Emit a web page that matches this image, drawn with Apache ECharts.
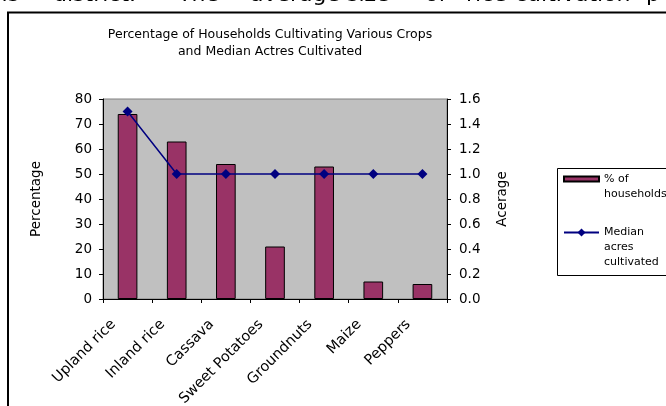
<!DOCTYPE html>
<html>
<head>
<meta charset="utf-8">
<script src="https://cdn.jsdelivr.net/npm/echarts@6/dist/echarts.min.js"></script>
<style>
  html, body { margin: 0; padding: 0; background: #fff; }
  #chart { width: 666px; height: 406px; }
</style>
</head>
<body>
<div id="chart"></div>
<script>
// Crops surveyed and the share of households growing each
const categories = ['Upland rice', 'Inland rice', 'Cassava', 'Sweet Potatoes', 'Groundnuts', 'Maize', 'Peppers'];
const householdPct = [74, 63, 54, 21, 53, 7, 6];
const medianAcres = [1.5, 1.0, 1.0, 1.0, 1.0, 1.0, 1.0];

// Axis tick values
const pctTicks = [0, 10, 20, 30, 40, 50, 60, 70, 80];
const acreTicks = [0, 0.2, 0.4, 0.6, 0.8, 1.0, 1.2, 1.4, 1.6];

const FONT = 'DejaVu Sans';

// Running text of the page above the chart frame (only its lower half shows)
const bodyWords = [
  ['this', -21], ['district.', 53], ['The', 178], ['average', 250], ['size', 347],
  ['of', 425], ['rice', 466], ['cultivation', 515], ['p', 646]
];

const chart = echarts.init(document.getElementById('chart'), null, { renderer: 'canvas' });

const textGraphics = bodyWords.map(([w, x]) => ({
  type: 'text',
  x: x,
  y: -4.5,
  silent: true,
  style: {
    text: w,
    font: '22px "' + FONT + '"',
    fill: '#000',
    verticalAlign: 'middle',
    align: 'left'
  }
}));

const legendText = { fontFamily: FONT, fontSize: 11, color: '#000', lineHeight: 15 };

chart.setOption({
  animation: false,
  backgroundColor: '#fff',
  textStyle: { fontFamily: FONT, color: '#000' },
  graphic: [
    // chart frame
    {
      type: 'rect',
      shape: { x: 8, y: 12.5, width: 720, height: 460 },
      style: { fill: 'none', stroke: '#000', lineWidth: 2 },
      silent: true,
      z: 0
    },
    // legend box
    {
      type: 'rect',
      shape: { x: 557.5, y: 168.5, width: 140, height: 107 },
      style: { fill: '#fff', stroke: '#000', lineWidth: 1 },
      silent: true,
      z: 1
    }
  ].concat(textGraphics),
  title: {
    text: 'Percentage of Households Cultivating Various Crops\nand Median Actres Cultivated',
    left: 265,
    top: 21,
    textAlign: 'center',
    textStyle: {
      fontFamily: FONT,
      fontSize: 12.5,
      fontWeight: 'normal',
      color: '#000',
      lineHeight: 17
    }
  },
  legend: [
    {
      orient: 'vertical',
      left: 563,
      top: 156.5,
      padding: 0,
      itemWidth: 35,
      itemHeight: 10,
      selectedMode: false,
      textStyle: legendText,
      data: [{ name: '% of households', icon: 'path://M0 0H35V5H0Z' }],
      formatter: () => '\n% of\nhouseholds'
    },
    {
      orient: 'vertical',
      left: 563,
      top: 195,
      padding: 0,
      itemWidth: 35,
      itemHeight: 10,
      selectedMode: false,
      textStyle: legendText,
      data: [{ name: 'Median acres cultivated' }],
      formatter: () => '\n\nMedian\nacres\ncultivated'
    }
  ],
  grid: {
    left: 103,
    right: 219,
    top: 99,
    bottom: 107,
    outerBoundsMode: 'none',
    show: true,
    backgroundColor: '#c0c0c0',
    borderColor: '#808080',
    borderWidth: 1
  },
  xAxis: {
    type: 'category',
    data: categories,
    boundaryGap: true,
    axisLine: { show: true, lineStyle: { color: '#000', width: 1 } },
    axisTick: { show: true, length: 4, lineStyle: { color: '#000' } },
    axisLabel: {
      interval: 0,
      rotate: 45,
      margin: 9,
      padding: [0, 20, 0, 0],
      fontFamily: FONT,
      fontSize: 14.5,
      color: '#000'
    },
    splitLine: { show: false }
  },
  yAxis: [
    {
      type: 'value',
      min: pctTicks[0],
      max: pctTicks[pctTicks.length - 1],
      interval: pctTicks[1] - pctTicks[0],
      name: 'Percentage',
      nameLocation: 'middle',
      nameGap: 60,
      nameTextStyle: { fontFamily: FONT, fontSize: 13.5, color: '#000' },
      axisLine: { show: true, lineStyle: { color: '#000', width: 1 } },
      axisTick: { show: true, length: 4, lineStyle: { color: '#000' } },
      axisLabel: { margin: 11, fontFamily: FONT, fontSize: 13.5, color: '#000' },
      splitLine: { show: false }
    },
    {
      type: 'value',
      position: 'right',
      min: acreTicks[0],
      max: acreTicks[acreTicks.length - 1],
      interval: 0.2,
      name: 'Acerage',
      nameLocation: 'middle',
      nameGap: 48,
      nameTextStyle: { fontFamily: FONT, fontSize: 13.5, color: '#000' },
      axisLine: { show: true, lineStyle: { color: '#000', width: 1 } },
      axisTick: { show: true, length: 4, lineStyle: { color: '#000' } },
      axisLabel: {
        margin: 12,
        fontFamily: FONT,
        fontSize: 13.5,
        color: '#000',
        formatter: v => v.toFixed(1)
      },
      splitLine: { show: false }
    }
  ],
  series: [
    {
      name: '% of households',
      type: 'bar',
      yAxisIndex: 0,
      barWidth: '40%',
      data: householdPct,
      itemStyle: { color: '#993366', borderColor: '#000', borderWidth: 1 }
    },
    {
      name: 'Median acres cultivated',
      type: 'line',
      yAxisIndex: 1,
      data: medianAcres,
      symbol: 'diamond',
      symbolSize: 10,
      itemStyle: { color: '#000080' },
      lineStyle: { color: '#000080', width: 1.5 }
    }
  ]
});
</script>
</body>
</html>
